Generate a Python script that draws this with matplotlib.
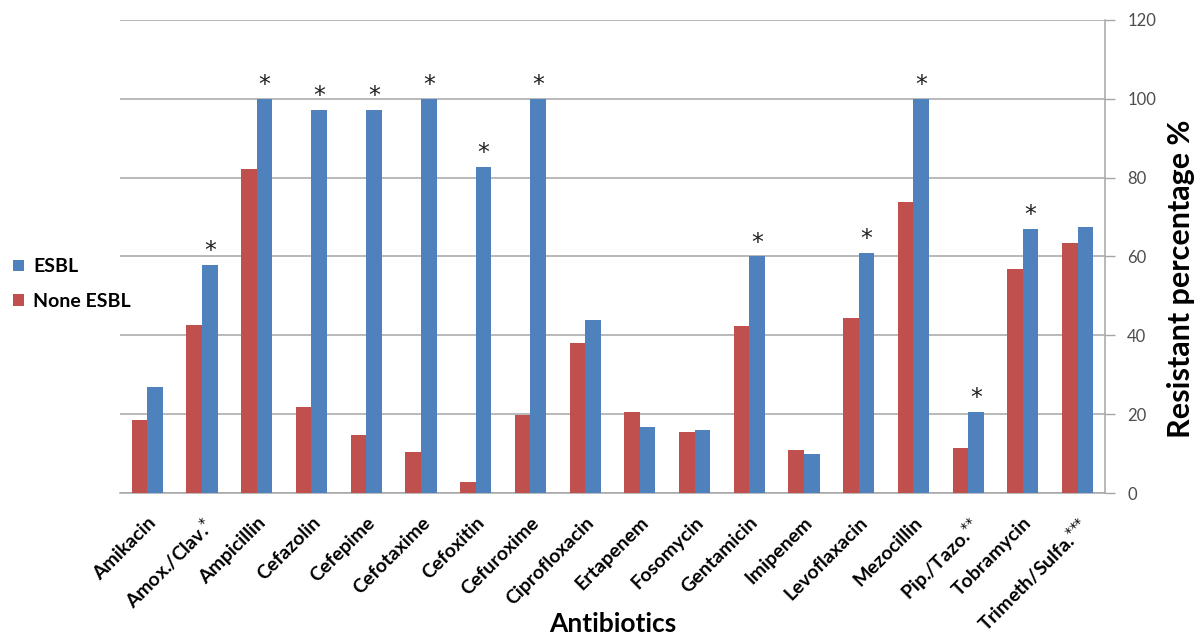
import numpy as np
import matplotlib
matplotlib.use("Agg")
import matplotlib.pyplot as plt
from matplotlib.patches import Patch

plt.rcParams['font.family'] = ['Lato', 'DejaVu Sans']

# DATA
antibiotics = ['Amikacin', r'Amox./Clav.$^{*}$', 'Ampicillin', 'Cefazolin', 'Cefepime',
               'Cefotaxime', 'Cefoxitin', 'Cefuroxime', 'Ciprofloxacin', 'Ertapenem',
               'Fosomycin', 'Gentamicin', 'Imipenem', 'Levoflaxacin', 'Mezocillin',
               r'Pip./Tazo.$^{{*}{*}}$', 'Tobramycin', r'Trimeth/Sulfa.$^{{*}{*}{*}}$']
none_esbl = [18.6, 42.7, 82.2, 21.8, 14.6, 10.3, 2.7, 19.9, 38.0, 20.5,
             15.4, 42.4, 11.0, 44.5, 73.8, 11.4, 56.8, 63.4]
esbl = [26.8, 57.9, 100, 97.2, 97.2, 100, 82.8, 100, 43.8, 16.8,
        16.1, 60.0, 9.9, 60.9, 100, 20.5, 67.0, 67.6]
significant = [False, True, True, True, True, True, True, True, False, False,
               False, True, False, True, True, True, True, False]
yticks = [0, 20, 40, 60, 80, 100, 120]

red = '#C0504D'
blue = '#4F81BD'
grid_col = '#A6A6A6'

fig = plt.figure(figsize=(11.96, 6.36), dpi=100)
ax = fig.add_axes([0.1003, 0.2248, 0.8236, 0.7438])

x = np.arange(len(antibiotics))
w = 0.285
ax.bar(x - w / 2, none_esbl, width=w, color=red, zorder=3)
ax.bar(x + w / 2, esbl, width=w, color=blue, zorder=3)

# significance stars
for i, s in enumerate(significant):
    if s:
        ax.text(x[i] + w / 2, esbl[i] + 3.5, '*', ha='center', va='center',
                fontsize=17, color='#222222', family='DejaVu Sans', zorder=4)

ax.set_xlim(-0.5, len(antibiotics) - 0.5)
ax.set_ylim(0, 120)

ax.yaxis.tick_right()
ax.set_yticks(yticks)
ax.set_yticklabels([str(t) for t in yticks], fontsize=12, color='#4D4D4D')
ax.tick_params(axis='y', length=7, width=1, color=grid_col, pad=9)
ax.grid(axis='y', color=grid_col, linewidth=1.1, zorder=0)

ax.set_xticks(x)
ax.set_xticklabels(antibiotics, rotation=45, ha='right', rotation_mode='anchor',
                   fontsize=14, fontweight='bold')
ax.tick_params(axis='x', length=0, pad=15)

for side in ['top', 'left']:
    ax.spines[side].set_visible(False)
ax.spines['right'].set_color(grid_col)
ax.spines['bottom'].set_color(grid_col)
ax.spines['right'].set_linewidth(1.1)
ax.spines['bottom'].set_linewidth(1.1)

fig.text(1181 / 1196, 1 - 279 / 636, 'Resistant percentage %', rotation=90,
         ha='center', va='center', fontsize=22, fontweight='bold')
ax.set_xlabel('Antibiotics', fontsize=19, fontweight='bold')
ax.xaxis.set_label_coords(0.5, -0.252)

legend_elements = [Patch(facecolor=blue, label='ESBL'),
                   Patch(facecolor=red, label='None ESBL')]
leg = fig.legend(handles=legend_elements, loc='center left',
                 bbox_to_anchor=(13 / 1196, 1 - 284 / 636),
                 frameon=False, borderpad=0, borderaxespad=0,
                 handlelength=0.55, handleheight=0.55, handletextpad=0.5,
                 labelspacing=0.9, prop={'weight': 'bold', 'size': 14})

fig.savefig('out.png', dpi=100)
